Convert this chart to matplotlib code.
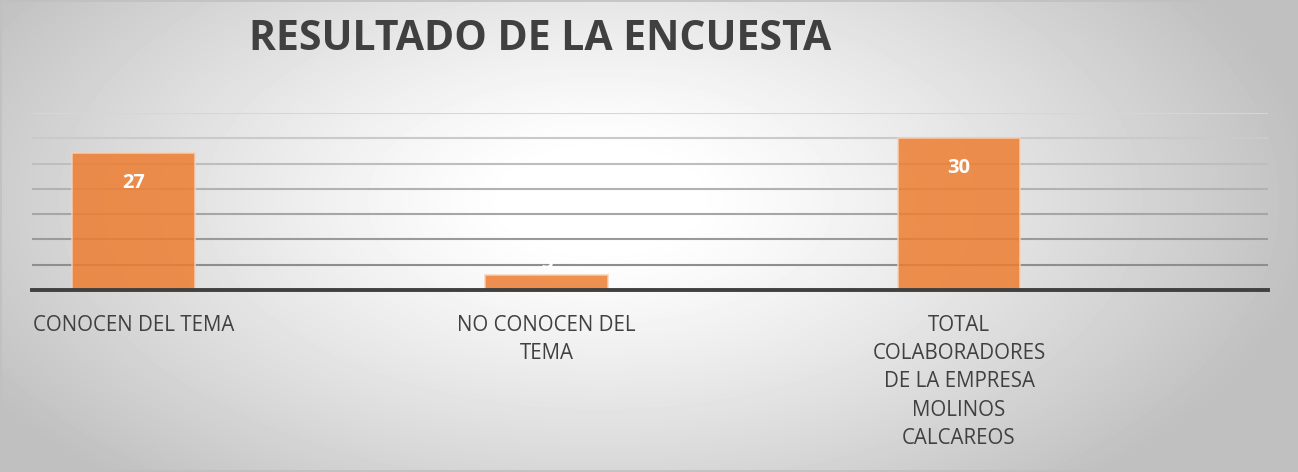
import numpy as np
import matplotlib
matplotlib.use("Agg")
import matplotlib.pyplot as plt

# data
categories = ["CONOCEN DEL TEMA", "NO CONOCEN DEL\nTEMA",
              "TOTAL\nCOLABORADORES\nDE LA EMPRESA\nMOLINOS\nCALCAREOS"]
values = [27, 3, 30]
grid_levels = [5, 10, 15, 20, 25, 30, 35]

W, H = 1298, 472
fig = plt.figure(figsize=(W / 100, H / 100), dpi=100)

# radial gradient background
bg = fig.add_axes([0, 0, 1, 1], zorder=0)
yy, xx = np.mgrid[0:H, 0:W]
d = np.sqrt(((xx - 600) / 720.0) ** 2 + ((yy - 200) / 380.0) ** 2)
shade = 1.0 - 0.25 * np.clip((d - 0.12) / 0.88, 0, 1) ** 1.2
bg.imshow(shade, cmap="gray", vmin=0, vmax=1, aspect="auto", extent=[0, W, H, 0])
bg.plot([0.5, W - 1.5, W - 1.5, 0.5, 0.5], [0.5, 0.5, H - 1.5, H - 1.5, 0.5],
        color="#c0c0c0", lw=1.2)
bg.set_xlim(0, W)
bg.set_ylim(H, 0)
bg.axis("off")

ax = fig.add_axes([32 / W, 1 - 290 / H, (1268 - 32) / W, (290 - 113) / H], zorder=1)
ax.patch.set_alpha(0)

grid_colors = ["#8e8e8e", "#9a9a9a", "#a6a6a6", "#b2b2b2", "#bebebe", "#cacaca", "#d6d6d6"]
for lvl, c in zip(grid_levels, grid_colors):
    ax.axhline(lvl, color=c, lw=1.5, zorder=0)

x = np.arange(len(categories))
bars = ax.bar(x, values, width=0.298, color="#ED7D31", alpha=0.85,
              edgecolor="#f6d2b8", linewidth=1.2, zorder=2)

for xi, v in zip(x, values):
    if v > 5:
        ax.text(xi, v - 5.9, str(v), ha="center", va="center", color="white",
                fontsize=14.5, fontweight="bold", family="Open Sans", zorder=3)
    else:
        ax.text(xi, v + 2.3, str(v), ha="center", va="center", color="white",
                fontsize=14.5, fontweight="bold", family="Open Sans", zorder=3)

ax.axhline(0, color="#404040", lw=2.8, zorder=4, clip_on=False)
ax.set_xlim(-0.247, 2.749)
ax.set_ylim(0, 35)
ax.set_yticks([])
ax.set_xticks(x)
ax.set_xticklabels(categories, fontsize=14.8, color="#404040", family="Open Sans",
                   linespacing=1.45)
ax.tick_params(axis="x", length=0, pad=18)
for s in ax.spines.values():
    s.set_visible(False)

fig.text(540 / W, 1 - 40 / H, "RESULTADO DE LA ENCUESTA", ha="center", va="center",
         fontsize=29.5, fontweight="bold", color="#404040", family="Open Sans")

fig.savefig("out.png", dpi=100)
